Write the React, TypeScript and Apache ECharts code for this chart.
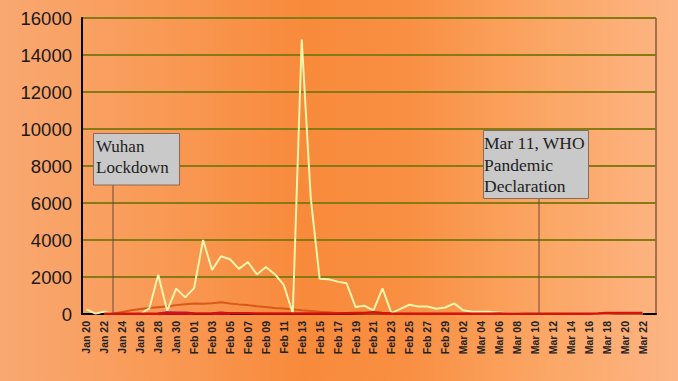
import React, { useEffect, useRef } from 'react';
import * as echarts from 'echarts';

const dates = [
  'Jan 20', 'Jan 21', 'Jan 22', 'Jan 23', 'Jan 24', 'Jan 25', 'Jan 26', 'Jan 27', 'Jan 28', 'Jan 29', 'Jan 30', 'Jan 31',
  'Feb 01', 'Feb 02', 'Feb 03', 'Feb 04', 'Feb 05', 'Feb 06', 'Feb 07', 'Feb 08', 'Feb 09', 'Feb 10',
  'Feb 11', 'Feb 12', 'Feb 13', 'Feb 14', 'Feb 15', 'Feb 16', 'Feb 17', 'Feb 18', 'Feb 19', 'Feb 20',
  'Feb 21', 'Feb 22', 'Feb 23', 'Feb 24', 'Feb 25', 'Feb 26', 'Feb 27', 'Feb 28', 'Feb 29',
  'Mar 01', 'Mar 02', 'Mar 03', 'Mar 04', 'Mar 05', 'Mar 06', 'Mar 07', 'Mar 08', 'Mar 09', 'Mar 10',
  'Mar 11', 'Mar 12', 'Mar 13', 'Mar 14', 'Mar 15', 'Mar 16', 'Mar 17', 'Mar 18', 'Mar 19', 'Mar 20',
  'Mar 21', 'Mar 22', 'Mar 23',
];

const yellowSeries = [
  250, 20, 130, 0, 0, 0, 0, 300, 2120, 180, 1370, 900,
  1400, 4000, 2380, 3120, 2960, 2440, 2810, 2140, 2540, 2150,
  1570, 40, 14840, 6300, 1900, 1880, 1750, 1660, 380, 440,
  200, 1390, 50, 280, 500, 410, 410, 280, 350,
  575, 200, 125, 125, 115, 80, 45, 40, 20, 20,
  15, 10, 10, 20, 15, 15, 10, 30, 40, 40,
  45, 40, null,
];

const orangeSeries = [
  null, null, 0, 20, 110, 200, 270, 330, 370, 400, 480, 530,
  570, 560, 580, 630, 570, 520, 480, 420, 380, 330,
  300, 250, 200, 160, 120, 90, 60, 40, 30, 20,
  20, 15, 15, 10, 10, 10, 10, 10, 10,
  10, 10, 10, 10, 10, 10, 10, 10, 10, 10,
  10, 10, 10, 10, 10, 10, 10, 10, 10, 10,
  10, 10, null,
];

const redSeries = [
  null, null, 10, 20, 20, 20, 20, 20, 20, 30, 30, 30,
  30, 30, 30, 40, 40, 40, 40, 30, 30, 30,
  30, 30, 30, 30, 30, 30, 30, 40, 50, 60,
  90, 50, 30, 20, 20, 20, 20, 20, 20,
  20, 20, 20, 20, 20, 30, 20, 20, 20, 20,
  20, 20, 20, 20, 20, 20, 30, 50, 50, 60,
  50, 60, null,
];

const magentaSeries = [
  null, null, null, null, null, null, null, null, 0, 70, 60, 50,
  10, null, 10, 60, 20, null, null, null, null, null,
  null, null, null, null, null, null, null, null, null, null,
  null, null, null, null, null, null, null, null, null,
  null, null, null, null, null, null, null, null, null, null,
  null, null, null, null, null, null, null, null, null, null,
  null, null, null,
];

const yMin = 0;
const yMax = 16000;
const yStep = 2000;

const wuhanLines = ['Wuhan', 'Lockdown'];
const whoLines = ['Mar 11, WHO', 'Pandemic', 'Declaration'];

export default function App() {
  const ref = useRef<HTMLDivElement>(null);

  useEffect(() => {
    const chart = echarts.init(ref.current!, null, { renderer: 'svg' });
    const serif = '"Liberation Serif", "Times New Roman", serif';
    const sans = '"Liberation Sans", Arial, sans-serif';
    chart.setOption({
      animation: false,
      backgroundColor: {
        type: 'linear', x: 0, y: 0, x2: 1, y2: 0,
        colorStops: [
          { offset: 0, color: '#f9a872' },
          { offset: 0.2, color: '#f99c5a' },
          { offset: 0.45, color: '#f88a3b' },
          { offset: 0.6, color: '#f98f42' },
          { offset: 0.8, color: '#fba664' },
          { offset: 1, color: '#fdb585' },
        ],
      },
      grid: {
        left: 82, right: 22, top: 18, bottom: 67,
        show: true, borderColor: '#4a3012', borderWidth: 1,
        backgroundColor: 'transparent',
      },
      xAxis: {
        type: 'category',
        data: dates,
        boundaryGap: true,
        axisLine: { lineStyle: { color: '#000', width: 2 } },
        axisTick: { show: false },
        axisLabel: {
          interval: 1, rotate: 90, fontSize: 10.5, fontWeight: 'bold',
          fontFamily: sans, color: '#222', margin: 7,
        },
        splitLine: { show: false },
      },
      yAxis: {
        type: 'value',
        min: yMin, max: yMax, interval: yStep,
        axisLine: { show: true, lineStyle: { color: '#000', width: 2 } },
        axisTick: { show: false },
        axisLabel: {
          fontSize: 18.5, fontFamily: sans, color: '#1a1a1a', margin: 10,
          formatter: (v: number) => String(v),
        },
        splitLine: { lineStyle: { color: '#857a14', width: 2 } },
      },
      series: [
        {
          type: 'line', data: orangeSeries, symbol: 'none',
          lineStyle: { color: '#d9581a', width: 2 }, z: 3,
        },
        {
          type: 'line', data: yellowSeries, symbol: 'none',
          lineStyle: { color: '#eff6ab', width: 2 }, z: 4,
        },
        {
          type: 'line', data: magentaSeries, symbol: 'none',
          lineStyle: { color: '#a8106e', width: 3 }, z: 5,
        },
        {
          type: 'line', data: redSeries, symbol: 'none',
          lineStyle: { color: '#d4140e', width: 2.5 }, z: 6,
        },
      ],
      graphic: [
        { type: 'line', shape: { x1: 113, y1: 185, x2: 113, y2: 314 }, style: { stroke: '#6a4a3a', lineWidth: 1 }, z: 10 },
        { type: 'rect', shape: { x: 93.5, y: 133.5, width: 86, height: 51.5 }, style: { fill: '#c9c9c9', stroke: '#8a6a5a', lineWidth: 1 }, z: 10 },
        {
          type: 'text', x: 96, y: 136, z: 11,
          style: { text: wuhanLines.join('\n'), font: `17px ${serif}`, fill: '#222', lineHeight: 21 },
        },
        { type: 'line', shape: { x1: 539, y1: 198, x2: 539, y2: 314 }, style: { stroke: '#6a4a3a', lineWidth: 1 }, z: 10 },
        { type: 'rect', shape: { x: 483.5, y: 130.5, width: 105, height: 68 }, style: { fill: '#c9c9c9', stroke: '#8a6a5a', lineWidth: 1 }, z: 10 },
        {
          type: 'text', x: 484, y: 132, z: 11,
          style: { text: whoLines.join('\n'), font: `17.5px ${serif}`, fill: '#222', lineHeight: 21.7 },
        },
      ],
    });
    return () => chart.dispose();
  }, []);

  return <div ref={ref} style={{ position: 'fixed', left: 0, top: 0, width: 678, height: 381 }} />;
}
